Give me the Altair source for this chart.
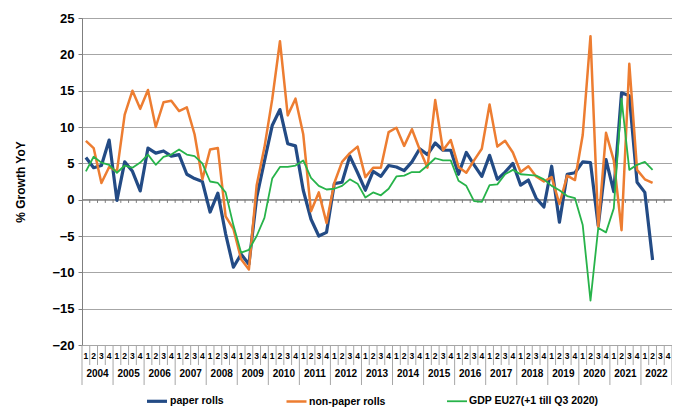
import altair as alt
import pandas as pd

years = list(range(2004, 2023))
quarters = ["1", "2", "3", "4"]

paper = [5.8, 4.4, 4.7, 8.2, -0.1, 5.2, 3.9, 1.2, 7.1, 6.4, 6.7, 6.0, 6.2, 3.5, 2.9, 2.5,
         -1.7, 0.9, -4.7, -9.3, -7.5, -8.9, 0.3, 5.3, 10.2, 12.4, 7.7, 7.4, 1.3, -2.7, -5.0, -4.5,
         2.2, 2.4, 6.0, 3.7, 1.3, 3.9, 3.2, 4.7, 4.5, 4.0, 5.2, 7.0, 6.2, 7.8, 6.8, 6.8,
         3.5, 6.5, 4.8, 3.2, 6.1, 2.8, 3.8, 5.0, 2.0, 2.7, 0.2, -1.0, 4.6, -3.1, 3.5, 3.7,
         5.2, 5.1, -3.6, 5.5, 1.1, 14.7, 14.3, 2.4, 1.0, -8.3]
nonpaper = [8.1, 7.1, 2.3, 4.5, 3.9, 11.7, 15.0, 12.5, 15.1, 10.0, 13.4, 13.6, 12.2, 12.7, 9.0, 2.8,
            6.9, 7.1, -2.3, -4.0, -8.2, -9.6, 2.0, 7.2, 13.8, 21.8, 11.6, 13.9, 9.0, -1.6, 1.0, -3.2,
            2.3, 5.2, 6.4, 7.3, 3.1, 4.4, 4.4, 9.3, 9.9, 7.4, 9.7, 6.9, 4.4, 13.7, 6.8, 8.2,
            4.5, 3.7, 5.4, 7.0, 13.1, 7.3, 8.1, 6.5, 3.8, 4.6, 3.2, 2.5, 3.1, -0.6, 3.3, 2.7,
            8.9, 22.5, -3.8, 9.2, 5.4, -4.2, 18.7, 4.1, 2.8, 2.3]
gdp = [3.9, 5.9, 5.1, 4.8, 3.7, 4.7, 4.4, 5.1, 6.2, 4.8, 5.9, 6.2, 6.9, 6.2, 6.0, 5.0,
       2.5, 2.3, 1.0, -3.5, -7.3, -6.9, -5.0, -2.5, 2.9, 4.5, 4.5, 4.7, 5.4, 3.0, 1.9, 1.4,
       1.5, 1.9, 2.8, 2.2, 0.3, 1.0, 0.6, 1.5, 3.2, 3.3, 3.8, 3.8, 4.7, 5.7, 5.4, 5.4,
       2.6, 1.9, -0.2, -0.3, 2.0, 2.1, 3.5, 4.1, 3.5, 3.4, 3.3, 2.8, 1.9, 1.3, 0.5, 0.2,
       -3.5, -13.9, -3.9, -4.5, -1.2, 13.9, 4.1, 4.8, 5.2, 4.1]

series_names = ["paper rolls", "non-paper rolls", "GDP EU27(+1 till Q3 2020)"]
colors = ["#234B85", "#ED7D31", "#27B34A"]
widths = [3.2, 1.8, 1.8]

rows = []
for name, vals in zip(series_names, [paper, nonpaper, gdp]):
    for i, val in enumerate(vals):
        rows.append({"series": name, "q": i + 0.5, "v": val})
df = pd.DataFrame(rows)

nq = len(years) * len(quarters)
W, H = 590, 327
FONT = "Liberation Sans"
GRID = "#A6A6A6"

xs = alt.Scale(domain=[0, nq], nice=False, zero=False)
ys = alt.Scale(domain=[-20, 25], nice=False, zero=False)
yaxis = alt.Axis(values=list(range(-20, 26, 5)), title="% Growth YoY",
                 titleFontSize=12, titleFontWeight="bold", titleColor="black",
                 labelFontSize=13, labelFontWeight="bold", labelColor="black",
                 grid=True, gridColor=GRID, gridWidth=1,
                 domainColor="#7F7F7F", tickColor="#7F7F7F", tickSize=4,
                 labelPadding=4, titlePadding=24)

# zero line with quarter ticks
zero_df = pd.DataFrame({"v": [0]})
zero_line = alt.Chart(zero_df).mark_rule(color="#7F7F7F", strokeWidth=1).encode(
    y=alt.Y("v:Q", scale=ys, axis=yaxis))
tick_df = pd.DataFrame({"b": list(range(1, nq)), "v": [0] * (nq - 1), "v2": [-0.45] * (nq - 1)})
zero_ticks = alt.Chart(tick_df).mark_rule(color="#7F7F7F", strokeWidth=1).encode(
    x=alt.X("b:Q", scale=xs, axis=None),
    y=alt.Y("v:Q", scale=ys, axis=yaxis),
    y2="v2:Q")

lines = alt.Chart(df).mark_line(strokeJoin="round").encode(
    x=alt.X("q:Q", scale=xs, axis=None),
    y=alt.Y("v:Q", scale=ys, axis=yaxis),
    color=alt.Color("series:N", sort=series_names,
                    scale=alt.Scale(domain=series_names, range=colors),
                    legend=alt.Legend(orient="none", legendX=63, legendY=371,
                                      direction="horizontal", title=None,
                                      symbolType="stroke", symbolSize=400,
                                      symbolStrokeWidth=2.5, labelFontSize=10.5,
                                      labelFontWeight="bold", labelColor="black",
                                      labelFont=FONT, columnPadding=57, labelOffset=1)),
    strokeWidth=alt.StrokeWidth("series:N",
                                scale=alt.Scale(domain=series_names, range=widths),
                                legend=None),
)

# category table below the plot
qsep_df = pd.DataFrame({"b": [k for k in range(nq + 1) if k % 4 != 0]})
ysep_df = pd.DataFrame({"b": [k for k in range(nq + 1) if k % 4 == 0]})
qsep = alt.Chart(qsep_df).mark_rule(color=GRID, strokeWidth=1).encode(
    x=alt.X("b:Q", scale=xs, axis=None), y=alt.value(H), y2=alt.value(H + 20))
ysep = alt.Chart(ysep_df).mark_rule(color=GRID, strokeWidth=1).encode(
    x=alt.X("b:Q", scale=xs, axis=None), y=alt.value(H), y2=alt.value(H + 40))

qlab_df = pd.DataFrame({"p": [i + 0.5 for i in range(nq)],
                        "t": [quarters[i % 4] for i in range(nq)]})
ylab_df = pd.DataFrame({"p": [4 * k + 2 for k in range(len(years))],
                        "t": [str(y) for y in years]})
qlab = alt.Chart(qlab_df).mark_text(fontSize=8.5, fontWeight="bold", font=FONT,
                                    color="black").encode(
    x=alt.X("p:Q", scale=xs, axis=None), y=alt.value(H + 11), text="t:N")
ylab = alt.Chart(ylab_df).mark_text(fontSize=10, fontWeight="bold", font=FONT,
                                    color="black").encode(
    x=alt.X("p:Q", scale=xs, axis=None), y=alt.value(H + 29), text="t:N")

chart = alt.layer(zero_line, zero_ticks, qsep, ysep, qlab, ylab, lines).properties(
    width=W, height=H,
    autosize=alt.AutoSizeParams(type="none"),
    padding={"left": 74, "top": 10, "right": 0, "bottom": 63},
).configure(font=FONT).configure_view(stroke=GRID, strokeWidth=1)

chart.save("out.html", embed_options={"renderer": "svg", "actions": False})
